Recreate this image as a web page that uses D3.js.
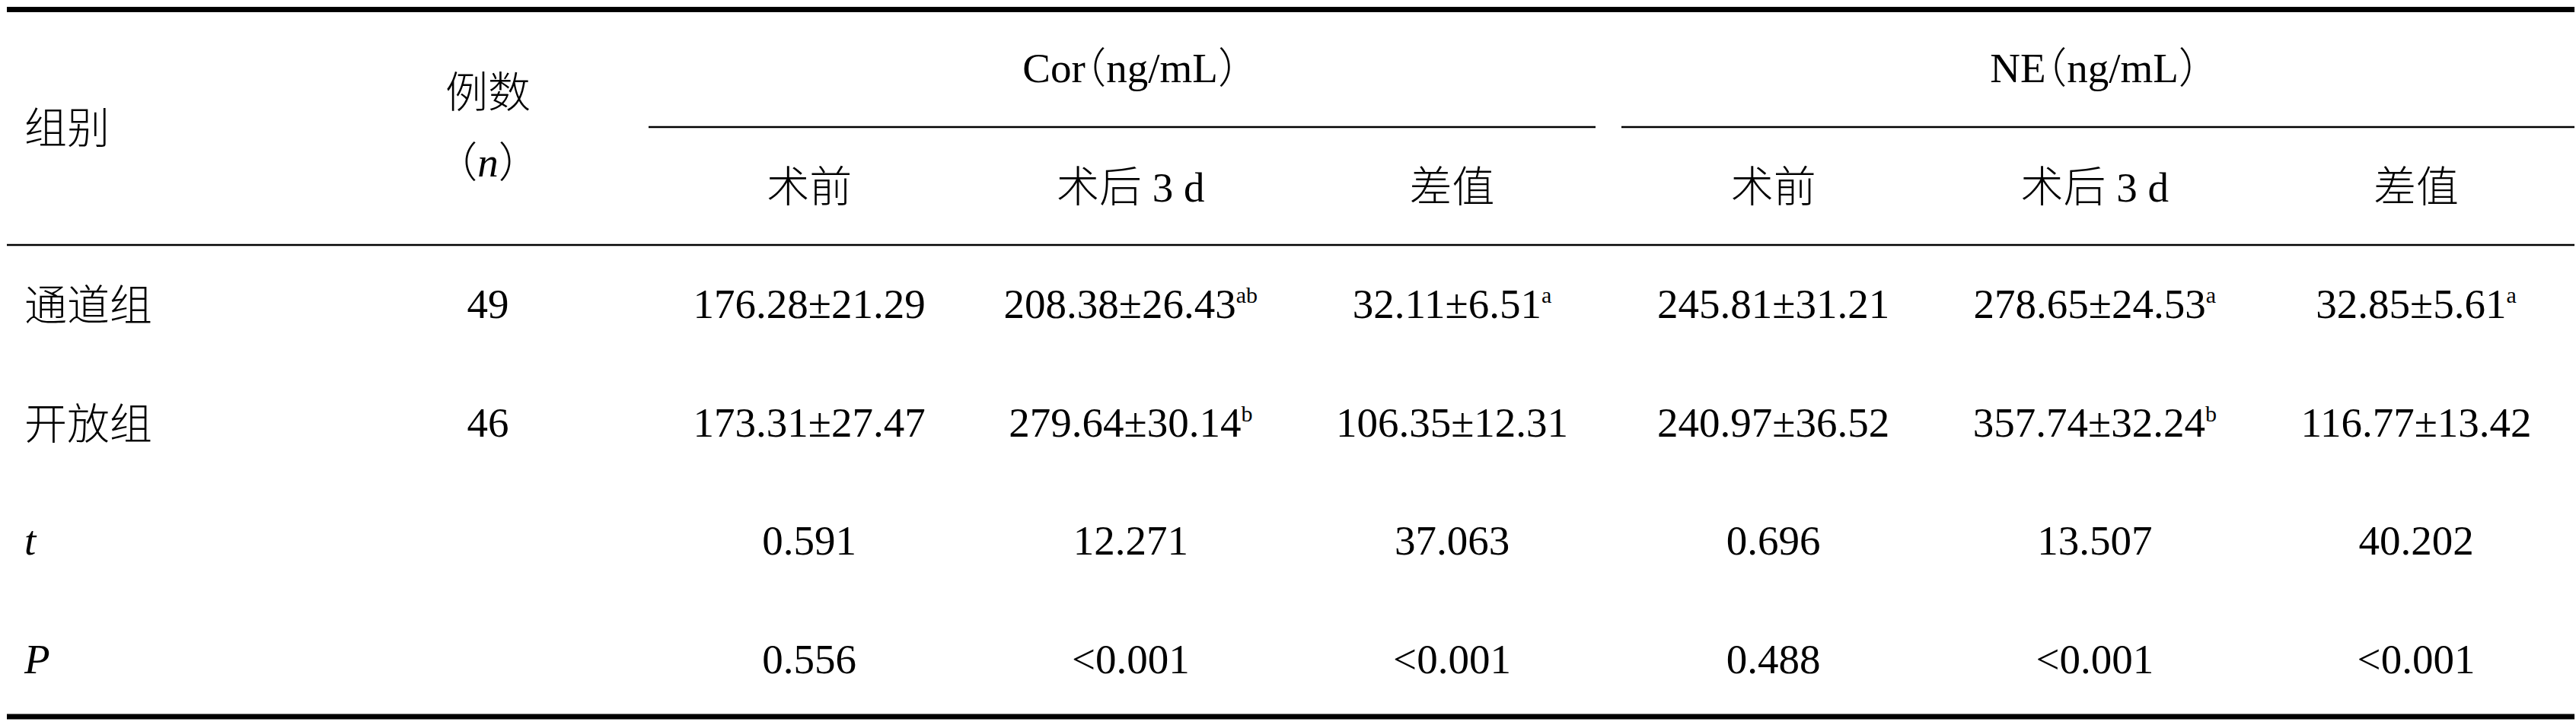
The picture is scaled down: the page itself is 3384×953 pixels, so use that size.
<!DOCTYPE html>
<html>
<head>
<meta charset="utf-8">
<script src="https://cdn.jsdelivr.net/npm/d3@7"></script>
<style>
  html, body { margin: 0; padding: 0; background: #fff; }
  svg text { text-spacing-trim: space-all; }
  .paren { font-feature-settings: "halt" 1; }
</style>
</head>
<body>
<div id="table"></div>
<script>
// Table values
const groups = ["通道组", "开放组"];
const statRows = ["t", "P"];
const nCounts = [49, 46];
const subCols = ["术前", "术后 3 d", "差值"];
const measures = ["Cor", "NE"];

const corPreMean = [176.28, 173.31], corPreSD = [21.29, 27.47];
const corPostMean = [208.38, 279.64], corPostSD = [26.43, 30.14];
const corDiffMean = [32.11, 106.35], corDiffSD = [6.51, 12.31];
const nePreMean = [245.81, 240.97], nePreSD = [31.21, 36.52];
const nePostMean = [278.65, 357.74], nePostSD = [24.53, 32.24];
const neDiffMean = [32.85, 116.77], neDiffSD = [5.61, 13.42];

// superscript marks, per data column, per group
const marks = [["", ""], ["ab", "b"], ["a", ""], ["", ""], ["a", "b"], ["a", ""]];

const tValues = ["0.591", "12.271", "37.063", "0.696", "13.507", "40.202"];
const pValues = ["0.556", "<0.001", "<0.001", "0.488", "<0.001", "<0.001"];

// Size of the picture
let width = 3384, height = 953;
let margin = {left: 9, right: 2, left_text: 32};

const latin = "'Liberation Serif','Times New Roman',serif";
const cjk = "'Noto Sans CJK SC','Noto Sans CJK JP',sans-serif";
const fs = 55, fsCjk = 56;

let svg = d3.select("#table")
  .append("svg")
  .attr("width", width)
  .attr("height", height)
  .style("background", "white");

// column positions (n column + 6 data columns)
const colKeys = ["n", "corPre", "corPost", "corDiff", "nePre", "nePost", "neDiff"];
const x = d3.scalePoint().domain(colKeys).range([641, 3174]);

// row baselines
const rowKeys = ["g0", "g1", "t", "P"];
const y = d3.scalePoint().domain(rowKeys).range([418, 885]);

// rules
function rule(x1, x2, yy, w) {
  svg.append("line")
    .attr("x1", x1).attr("x2", x2)
    .attr("y1", yy).attr("y2", yy)
    .attr("stroke", "black")
    .attr("stroke-width", w);
}
rule(margin.left, width - margin.right, 12.5, 7);
rule(852, 2096, 167, 2.5);
rule(2130, width - margin.right, 167, 2.5);
rule(margin.left, width - margin.right, 322, 2.5);
rule(margin.left, width - margin.right, 942, 7);

// helper for a full-width bracket set in the CJK font
function paren(sel, ch) {
  sel.append("tspan")
    .attr("class", "paren")
    .style("font-family", cjk).style("font-weight", 300)
    .text(ch);
}

// header: first column
svg.append("text")
  .attr("x", margin.left_text).attr("y", 188)
  .style("font-family", cjk).style("font-size", fsCjk + "px").style("font-weight", 300)
  .text("组别");

svg.append("text")
  .attr("x", x("n")).attr("y", 141)
  .attr("text-anchor", "middle")
  .style("font-family", cjk).style("font-size", fsCjk + "px").style("font-weight", 300)
  .text("例数");

let nHead = svg.append("text")
  .attr("x", x("n")).attr("y", 232)
  .attr("text-anchor", "middle")
  .style("font-family", latin).style("font-size", fs + "px");
paren(nHead, "（");
nHead.append("tspan").style("font-style", "italic").text("n");
paren(nHead, "）");

// header: measure groups
const measureCenters = [(x("corPre") + x("corDiff")) / 2, (x("nePre") + x("neDiff")) / 2];
measures.forEach((m, i) => {
  let t = svg.append("text")
    .attr("x", measureCenters[i]).attr("y", 108)
    .attr("text-anchor", "middle")
    .style("font-family", latin).style("font-size", fs + "px");
  t.append("tspan").text(m);
  paren(t, "（");
  t.append("tspan").text("ng/mL");
  paren(t, "）");
});

// header: sub columns
colKeys.slice(1).forEach((k, i) => {
  let label = subCols[i % 3];
  let t = svg.append("text")
    .attr("x", x(k)).attr("y", 265)
    .attr("text-anchor", "middle")
    .style("font-size", fs + "px");
  let parts = label.split(" ");
  t.append("tspan").style("font-family", cjk).style("font-size", fsCjk + "px").style("font-weight", 300).text(parts[0]);
  if (parts.length > 1) {
    t.append("tspan").style("font-family", latin).text(" " + parts.slice(1).join(" "));
  }
});

// body: row labels
groups.forEach((g, i) => {
  svg.append("text")
    .attr("x", margin.left_text).attr("y", y(rowKeys[i]) + 3)
    .style("font-family", cjk).style("font-size", fsCjk + "px").style("font-weight", 300)
    .text(g);
});
statRows.forEach((s, i) => {
  svg.append("text")
    .attr("x", margin.left_text).attr("y", y(rowKeys[i + 2]))
    .style("font-family", latin).style("font-size", fs + "px").style("font-style", "italic")
    .text(s);
});

// draw a latin cell
function cell(colKey, rowKey, txt, sup) {
  let t = svg.append("text")
    .attr("x", x(colKey)).attr("y", y(rowKey))
    .attr("text-anchor", "middle")
    .style("font-family", latin).style("font-size", fs + "px")
    .text(txt);
  if (sup) {
    t.append("tspan")
      .attr("dy", -20)
      .style("font-size", "30px")
      .text(sup);
  }
}

// n column
nCounts.forEach((n, i) => cell("n", rowKeys[i], String(n)));

// mean ± sd columns
const means = [corPreMean, corPostMean, corDiffMean, nePreMean, nePostMean, neDiffMean];
const sds = [corPreSD, corPostSD, corDiffSD, nePreSD, nePostSD, neDiffSD];
colKeys.slice(1).forEach((k, c) => {
  groups.forEach((g, i) => {
    cell(k, rowKeys[i], means[c][i].toFixed(2) + "±" + sds[c][i].toFixed(2), marks[c][i]);
  });
  cell(k, "t", tValues[c]);
  cell(k, "P", pValues[c]);
});
</script>
</body>
</html>
